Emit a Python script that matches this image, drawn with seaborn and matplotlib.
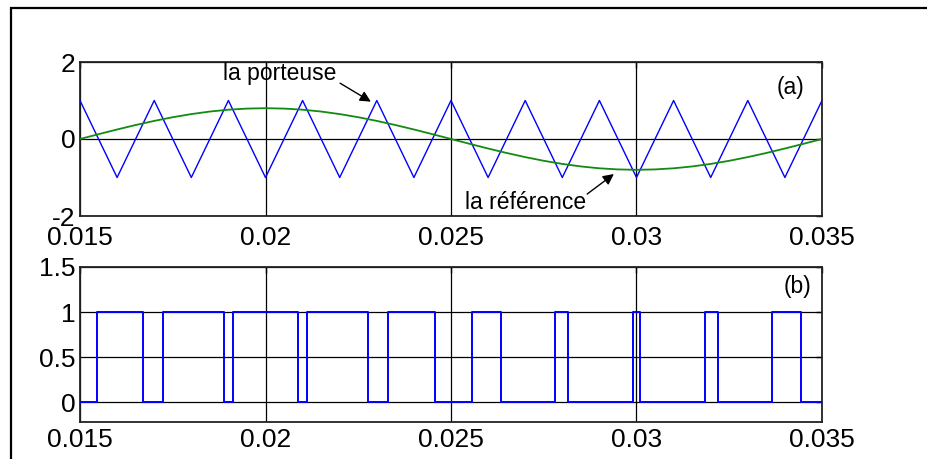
import matplotlib
matplotlib.use("Agg")
import matplotlib.pyplot as plt
import seaborn as sns
import pandas as pd
from matplotlib.patches import Rectangle

# Triangular carrier: vertices every 1 ms between +1 and -1
carrier_t = [0.015, 0.016, 0.017, 0.018, 0.019, 0.020, 0.021, 0.022, 0.023, 0.024,
             0.025, 0.026, 0.027, 0.028, 0.029, 0.030, 0.031, 0.032, 0.033, 0.034, 0.035]
carrier_v = [1, -1, 1, -1, 1, -1, 1, -1, 1, -1,
             1, -1, 1, -1, 1, -1, 1, -1, 1, -1, 1]

# Sinusoidal reference sampled every 0.5 ms
ref_t = [0.0150, 0.0155, 0.0160, 0.0165, 0.0170, 0.0175, 0.0180, 0.0185, 0.0190, 0.0195,
         0.0200, 0.0205, 0.0210, 0.0215, 0.0220, 0.0225, 0.0230, 0.0235, 0.0240, 0.0245,
         0.0250, 0.0255, 0.0260, 0.0265, 0.0270, 0.0275, 0.0280, 0.0285, 0.0290, 0.0295,
         0.0300, 0.0305, 0.0310, 0.0315, 0.0320, 0.0325, 0.0330, 0.0335, 0.0340, 0.0345, 0.0350]
ref_v = [0.000, 0.125, 0.247, 0.363, 0.470, 0.566, 0.647, 0.713, 0.761, 0.790,
         0.800, 0.790, 0.761, 0.713, 0.647, 0.566, 0.470, 0.363, 0.247, 0.125,
         0.000, -0.125, -0.247, -0.363, -0.470, -0.566, -0.647, -0.713, -0.761, -0.790,
         -0.800, -0.790, -0.761, -0.713, -0.647, -0.566, -0.470, -0.363, -0.247, -0.125, 0.000]

# Switching instants of the PWM output (starts low, toggles at each instant)
pwm_edges = [0.015445, 0.016704, 0.017244, 0.018875, 0.019115, 0.020885, 0.021125,
             0.022758, 0.023296, 0.024556, 0.025571, 0.026337, 0.027808, 0.028165,
             0.029900, 0.030100, 0.031835, 0.032190, 0.033663, 0.034429]
pwm_start, pwm_end = 0.015, 0.035

xticks = [0.015, 0.02, 0.025, 0.03, 0.035]
xticklabels = ["0.015", "0.02", "0.025", "0.03", "0.035"]
yticks_a = [-2, 0, 2]
yticks_b = [0, 0.5, 1, 1.5]
yticklabels_b = ["0", "0.5", "1", "1.5"]

# Step signal built from the switching instants
pwm_t = [pwm_start] + pwm_edges + [pwm_end]
pwm_v = [(i % 2) for i in range(len(pwm_edges) + 1)]
pwm_v = pwm_v + [pwm_v[-1]]

carrier = pd.DataFrame({"t": carrier_t, "v": carrier_v})
reference = pd.DataFrame({"t": ref_t, "v": ref_v})
pwm = pd.DataFrame({"t": pwm_t, "v": pwm_v})

sns.set_style("white")
plt.rcParams["font.family"] = ["Liberation Sans", "DejaVu Sans"]
plt.rcParams["text.color"] = "black"

fig = plt.figure(figsize=(9.27, 4.59), dpi=100)
ax1 = fig.add_axes([80 / 927, 1 - 216 / 459, 742 / 927, 154 / 459])
ax2 = fig.add_axes([80 / 927, 1 - 422 / 459, 742 / 927, 155 / 459])

# Outer frame
fig.patches.append(Rectangle((11 / 927, -0.2), 2.0, 1.2 - 8 / 459,
                             transform=fig.transFigure, fill=False,
                             edgecolor="black", lw=1.6, zorder=0))

# (a) carrier and reference
sns.lineplot(data=carrier, x="t", y="v", ax=ax1, color="#0000ff", lw=1.0,
             estimator=None, sort=False, zorder=3)
sns.lineplot(data=reference, x="t", y="v", ax=ax1, color="#138a13", lw=1.3,
             estimator=None, sort=False, zorder=3)
ax1.set_ylim(-2, 2)
ax1.set_yticks(yticks_a)
ax1.set_yticklabels([str(v) for v in yticks_a])

txt = dict(fontsize=16.5, color="black")
ax1.text(0.01885, 1.69, "la porteuse", va="center", ha="left", **txt)
ax1.annotate("", xy=(0.02284, 0.97), xytext=(0.02201, 1.45),
             arrowprops=dict(arrowstyle="-|>", color="black", lw=1.0,
                             mutation_scale=16, shrinkA=0, shrinkB=0))
ax1.text(0.02538, -1.66, "la référence", va="center", ha="left", **txt)
ax1.annotate("", xy=(0.02939, -0.91), xytext=(0.02867, -1.43),
             arrowprops=dict(arrowstyle="-|>", color="black", lw=1.0,
                             mutation_scale=16, shrinkA=0, shrinkB=0))
ax1.text(0.03416, 1.35, "(a)", va="center", ha="center", **txt)

# (b) PWM output
sns.lineplot(data=pwm, x="t", y="v", ax=ax2, color="#0000ff", lw=1.4,
             estimator=None, sort=False, drawstyle="steps-post", zorder=3)
ax2.set_ylim(-0.22, 1.5)
ax2.set_yticks(yticks_b)
ax2.set_yticklabels(yticklabels_b)
ax2.text(0.03435, 1.28, "(b)", va="center", ha="center", **txt)

for ax, xpad in ((ax1, 7.5), (ax2, 4.5)):
    ax.set_xlim(0.015, 0.035)
    ax.set_xticks(xticks)
    ax.set_xticklabels(xticklabels)
    ax.set_xlabel("")
    ax.set_ylabel("")
    ax.grid(True, color="black", lw=0.9)
    ax.set_axisbelow(True)
    ax.tick_params(direction="in", top=True, right=True, length=4, width=1,
                   labelsize=19, pad=3, colors="black")
    ax.tick_params(axis="x", pad=xpad)
    for s in ax.spines.values():
        s.set_color("#222222")
        s.set_linewidth(1.3)

fig.savefig("out.png", dpi=100, facecolor="white")
